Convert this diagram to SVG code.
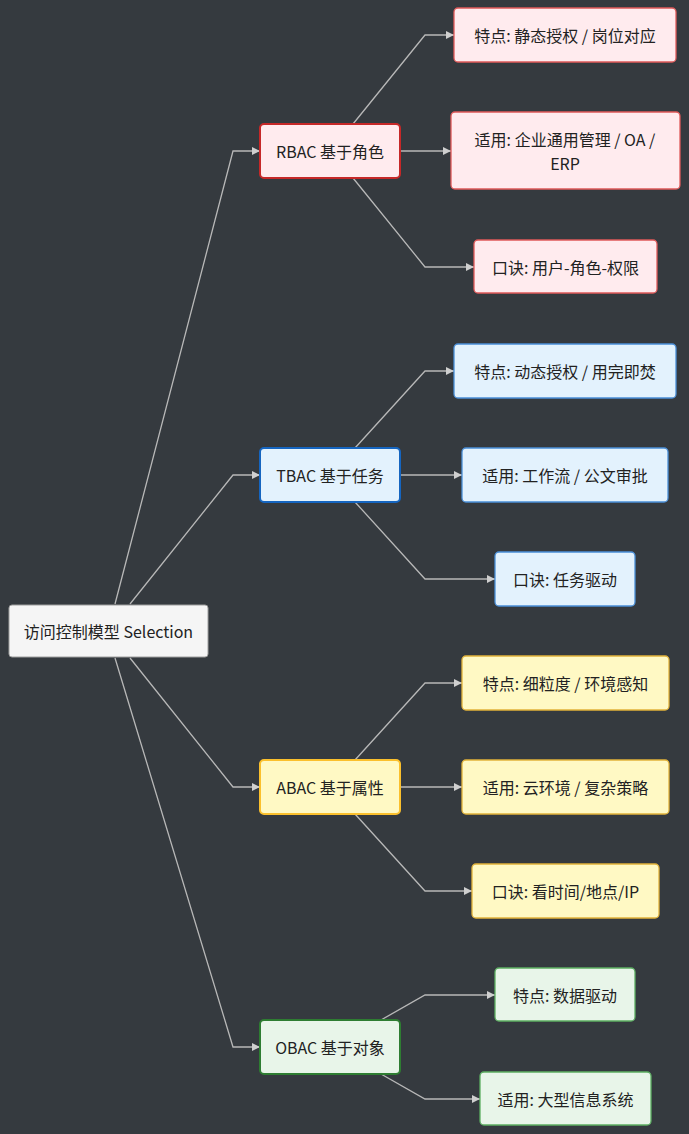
<svg xmlns="http://www.w3.org/2000/svg" width="689" height="1134" viewBox="0 0 689 1134">
<defs>
<marker id="arr" viewBox="0 0 10 10" refX="10" refY="5" markerWidth="8" markerHeight="8" markerUnits="userSpaceOnUse" orient="auto">
<path d="M0,0 L10,5 L0,10 z" fill="#cfcfcf"/>
</marker>
<style>
text{font-family:"Noto Sans CJK SC","Noto Sans","Liberation Sans",sans-serif;font-size:16px;fill:#222;text-anchor:middle;dominant-baseline:central}
.edge{fill:none;stroke:#b8b8b8;stroke-width:1.3;marker-end:url(#arr)}
.root rect{fill:#f5f5f5;stroke:#9e9e9e;stroke-width:1}
.r rect{fill:#ffebee}
.r.m rect{stroke:#c62828;stroke-width:2}
.r.c rect{stroke:#e05a5a;stroke-width:1.3}
.t rect{fill:#e3f2fd}
.t.m rect{stroke:#1565c0;stroke-width:2}
.t.c rect{stroke:#4a8fd8;stroke-width:1.3}
.a rect{fill:#fff9c4}
.a.m rect{stroke:#fbc02d;stroke-width:2}
.a.c rect{stroke:#e2b33a;stroke-width:1.3}
.o rect{fill:#e8f5e9}
.o.m rect{stroke:#2e7d32;stroke-width:2}
.o.c rect{stroke:#5cae62;stroke-width:1.3}
</style>
</defs>
<rect width="689" height="1134" fill="#353a3f"/>
<g id="connectors">
<path class="edge" d="M115,604 L233,151 L260,151"/>
<path class="edge" d="M130,604 L233,475 L260,475"/>
<path class="edge" d="M130,658 L233,787 L260,787"/>
<path class="edge" d="M115,658 L233,1047 L260,1047"/>
<path class="edge" d="M353,124 L425,35 L454,35"/>
<path class="edge" d="M400,151 L451,151"/>
<path class="edge" d="M353,178 L425,267 L474,267"/>
<path class="edge" d="M355,448 L425,371 L454,371"/>
<path class="edge" d="M400,475 L462,475"/>
<path class="edge" d="M355,502 L425,579 L495,579"/>
<path class="edge" d="M355,760 L425,683 L462,683"/>
<path class="edge" d="M400,787 L462,787"/>
<path class="edge" d="M355,814 L425,891 L472,891"/>
<path class="edge" d="M381,1020 L425,995 L495,995"/>
<path class="edge" d="M381,1074 L425,1099 L480,1099"/>
</g>
<g id="root" class="root"><rect x="9" y="605" width="199" height="52" rx="3"/><text x="108.5" y="631">访问控制模型 Selection</text></g>
<g id="rbac" class="r m"><rect x="260" y="124" width="140" height="54" rx="4"/><text x="330" y="151">RBAC 基于角色</text></g>
<g id="rbac1" class="r c"><rect x="454" y="8" width="222" height="54" rx="4"/><text x="565" y="35">特点: 静态授权 / 岗位对应</text></g>
<g id="rbac2" class="r c"><rect x="451" y="112" width="229" height="77" rx="4"/><text x="565" y="139">适用: 企业通用管理 / OA /</text><text x="565" y="163">ERP</text></g>
<g id="rbac3" class="r c"><rect x="474" y="240" width="183" height="53" rx="4"/><text x="565.5" y="267">口诀: 用户-角色-权限</text></g>
<g id="tbac" class="t m"><rect x="260" y="448" width="140" height="54" rx="4"/><text x="330" y="475">TBAC 基于任务</text></g>
<g id="tbac1" class="t c"><rect x="454" y="344" width="222" height="54" rx="4"/><text x="565" y="371">特点: 动态授权 / 用完即焚</text></g>
<g id="tbac2" class="t c"><rect x="462" y="448" width="206" height="54" rx="4"/><text x="565" y="475">适用: 工作流 / 公文审批</text></g>
<g id="tbac3" class="t c"><rect x="495" y="552" width="140" height="54" rx="4"/><text x="565" y="579">口诀: 任务驱动</text></g>
<g id="abac" class="a m"><rect x="260" y="760" width="140" height="54" rx="4"/><text x="330" y="787">ABAC 基于属性</text></g>
<g id="abac1" class="a c"><rect x="462" y="656" width="207" height="54" rx="4"/><text x="565.5" y="683">特点: 细粒度 / 环境感知</text></g>
<g id="abac2" class="a c"><rect x="462" y="760" width="207" height="54" rx="4"/><text x="565.5" y="787">适用: 云环境 / 复杂策略</text></g>
<g id="abac3" class="a c"><rect x="472" y="864" width="187" height="54" rx="4"/><text x="565.5" y="891">口诀: 看时间/地点/IP</text></g>
<g id="obac" class="o m"><rect x="260" y="1020" width="140" height="54" rx="4"/><text x="330" y="1047">OBAC 基于对象</text></g>
<g id="obac1" class="o c"><rect x="495" y="968" width="140" height="53" rx="4"/><text x="565" y="995">特点: 数据驱动</text></g>
<g id="obac2" class="o c"><rect x="480" y="1072" width="171" height="53" rx="4"/><text x="565.5" y="1099">适用: 大型信息系统</text></g>
</svg>
